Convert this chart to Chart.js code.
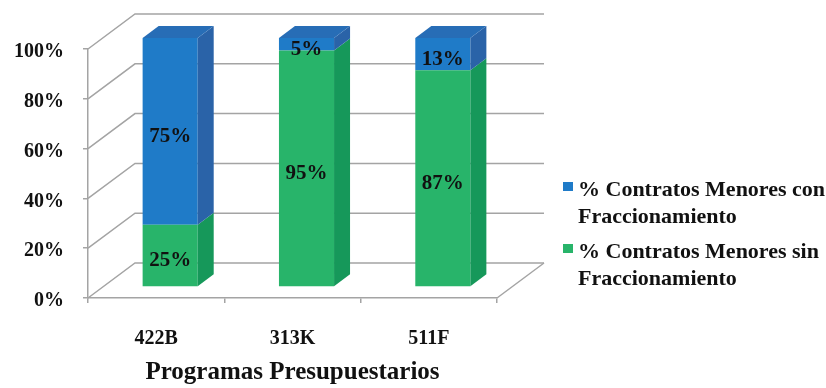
<!DOCTYPE html>
<html>
<head>
<meta charset="utf-8">
<script src="https://cdn.jsdelivr.net/npm/chart.js@4.4.1/dist/chart.umd.min.js"></script>
<style>
  html, body { margin: 0; padding: 0; background: #ffffff; }
  #wrap { width: 826px; height: 388px; }
</style>
</head>
<body>
<div id="wrap"><canvas id="chart" width="826" height="388"></canvas></div>
<script>
// Budget programmes and the split of minor contracts (percent)
const categories = ['422B', '313K', '511F'];
const sinFraccionamiento = [25, 95, 87];
const conFraccionamiento = [75, 5, 13];
const yTickValues = [0, 20, 40, 60, 80, 100];
const conLegendLines = ['% Contratos Menores con', 'Fraccionamiento'];
const sinLegendLines = ['% Contratos Menores sin', 'Fraccionamiento'];
const xTitle = 'Programas Presupuestarios';

// Styling
const SERIF = '"Liberation Serif", "Times New Roman", serif';
const GRID = '#a4a4a4';
const BLUE = { front: '#1f7bc8', side: '#2a63a8', top: '#276db6' };
const GREEN = { front: '#28b46a', side: '#16985a', top: '#1fa863' };
const WALL = { dx: 47, dy: -35 };   // depth of the box (back wall offset)
const BAR = { dx: 14, dy: -11 };    // where the bar fronts sit inside the box
const SIDE = { dx: 16, dy: -12 };   // bar thickness in depth

const faces = [GREEN, BLUE];

const box3d = {
  id: 'box3d',
  beforeDatasetsDraw(chart) {
    const { ctx, chartArea: { left, right, bottom }, scales: { y } } = chart;
    ctx.save();
    ctx.strokeStyle = GRID;
    ctx.lineWidth = 1.5;
    // left wall diagonals + back wall grid lines
    yTickValues.forEach(v => {
      const py = y.getPixelForValue(v);
      ctx.beginPath();
      ctx.moveTo(left, py);
      ctx.lineTo(left + WALL.dx, py + WALL.dy);
      ctx.lineTo(right + WALL.dx, py + WALL.dy);
      ctx.stroke();
    });
    // floor right edge
    ctx.beginPath();
    ctx.moveTo(right, bottom);
    ctx.lineTo(right + WALL.dx, bottom + WALL.dy);
    ctx.stroke();
    ctx.restore();
    // push the bars back into the box
    ctx.save();
    ctx.translate(BAR.dx, BAR.dy);
  },
  afterDatasetsDraw(chart) {
    const { ctx } = chart;
    const last = chart.data.datasets.length - 1;
    chart.data.datasets.forEach((ds, di) => {
      const meta = chart.getDatasetMeta(di);
      meta.data.forEach(el => {
        const xl = el.x - el.width / 2, xr = el.x + el.width / 2;
        const t = Math.min(el.y, el.base), b = Math.max(el.y, el.base);
        ctx.fillStyle = faces[di].side;
        ctx.beginPath();
        ctx.moveTo(xr, t);
        ctx.lineTo(xr + SIDE.dx, t + SIDE.dy);
        ctx.lineTo(xr + SIDE.dx, b + SIDE.dy);
        ctx.lineTo(xr, b);
        ctx.closePath();
        ctx.fill();
        if (di === last) {
          ctx.fillStyle = faces[di].top;
          ctx.beginPath();
          ctx.moveTo(xl, t);
          ctx.lineTo(xl + SIDE.dx, t + SIDE.dy);
          ctx.lineTo(xr + SIDE.dx, t + SIDE.dy);
          ctx.lineTo(xr, t);
          ctx.closePath();
          ctx.fill();
        }
      });
    });
    // value labels on the bar fronts
    ctx.fillStyle = '#111111';
    ctx.font = 'bold 21px ' + SERIF;
    ctx.textAlign = 'center';
    ctx.textBaseline = 'middle';
    chart.data.datasets.forEach((ds, di) => {
      const meta = chart.getDatasetMeta(di);
      meta.data.forEach((el, i) => {
        ctx.fillText(ds.data[i] + '%', el.x, (el.y + el.base) / 2 + 5);
      });
    });
    ctx.restore();
  },
  afterDraw(chart) {
    const { ctx } = chart;
    const items = [
      { lines: conLegendLines, color: BLUE.front, y: 190 },
      { lines: sinLegendLines, color: GREEN.front, y: 252 }
    ];
    ctx.save();
    ctx.font = 'bold 22px ' + SERIF;
    ctx.textAlign = 'left';
    ctx.textBaseline = 'middle';
    items.forEach(it => {
      ctx.fillStyle = it.color;
      ctx.fillRect(563, it.y - 8, 10, 9);
      ctx.fillStyle = '#111111';
      it.lines.forEach((ln, k) => ctx.fillText(ln, 578, it.y + k * 27));
    });
    ctx.restore();
  }
};

new Chart(document.getElementById('chart'), {
  type: 'bar',
  data: {
    labels: categories,
    datasets: [
      { label: sinLegendLines.join(' '), data: sinFraccionamiento, backgroundColor: GREEN.front, clip: false },
      { label: conLegendLines.join(' '), data: conFraccionamiento, backgroundColor: BLUE.front, clip: false }
    ]
  },
  options: {
    responsive: false,
    animation: false,
    layout: { padding: { left: 0, top: 49, right: 329, bottom: 0 } },
    plugins: { legend: { display: false }, tooltip: { enabled: false } },
    datasets: { bar: { categoryPercentage: 1.0, barPercentage: 0.404 } },
    scales: {
      x: {
        stacked: true,
        offset: true,
        grid: { offset: true, drawOnChartArea: false, tickLength: 5, color: GRID, lineWidth: 1.5 },
        border: { color: GRID, width: 1.5 },
        ticks: { color: '#111111', padding: 24, font: { family: SERIF, size: 20, weight: 'bold' } },
        title: {
          display: true, text: xTitle, color: '#111111',
          padding: { top: 0, bottom: 0 },
          font: { family: SERIF, size: 25, weight: 'bold' }
        },
        afterFit(scale) { scale.height = 90; }
      },
      y: {
        stacked: true,
        min: 0,
        max: 100,
        grid: { drawOnChartArea: false, tickLength: 5, color: GRID, lineWidth: 1.5 },
        border: { color: GRID, width: 1.5 },
        ticks: {
          stepSize: 20, padding: 19, labelOffset: 3, color: '#111111',
          font: { family: SERIF, size: 20, weight: 'bold' },
          callback: v => v + '%'
        },
        afterFit(scale) { scale.width = 88; }
      }
    }
  },
  plugins: [box3d]
});
</script>
</body>
</html>
